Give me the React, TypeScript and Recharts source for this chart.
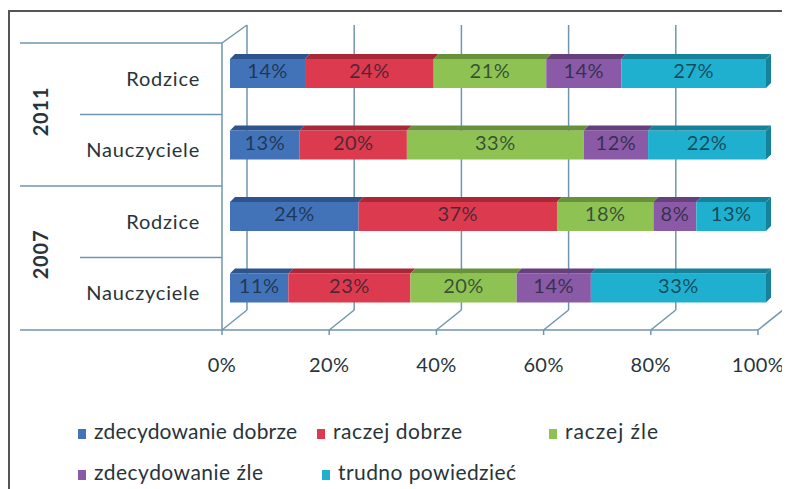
import React from 'react';
import { BarChart, Bar, XAxis, YAxis, CartesianGrid, LabelList, Customized } from 'recharts';

// 100% stacked, 3D-ish horizontal bars (Excel style)
const groups = ['Rodzice', 'Nauczyciele', 'Rodzice', 'Nauczyciele'];
const years = ['2011', '2011', '2007', '2007'];
const zdecydowanieDobrze = [14, 13, 24, 11];
const raczejDobrze = [24, 20, 37, 23];
const raczejZle = [21, 33, 18, 20];
const zdecydowanieZle = [14, 12, 8, 14];
const trudnoPowiedziec = [27, 22, 13, 33];
const xTicks = [0, 0.2, 0.4, 0.6, 0.8, 1];

const series = [
  { key: 'zd', name: 'zdecydowanie dobrze', values: zdecydowanieDobrze, color: '#4273b9', top: '#2d548d' },
  { key: 'rd', name: 'raczej dobrze', values: raczejDobrze, color: '#dc3a4e', top: '#a82838' },
  { key: 'rz', name: 'raczej źle', values: raczejZle, color: '#8ec253', top: '#67923a' },
  { key: 'zz', name: 'zdecydowanie źle', values: zdecydowanieZle, color: '#8a5aa6', top: '#65407c' },
  { key: 'tp', name: 'trudno powiedzieć', values: trudnoPowiedziec, color: '#1fb0cf', top: '#15819a' },
];

const data = groups.map((g, i) => {
  const row: any = { id: i, group: g, year: years[i] };
  series.forEach((s) => (row[s.key] = s.values[i]));
  return row;
});

const FONT = 'Lato, "Open Sans", sans-serif';
const TEXT = '#28343a';
const LINE = '#6f96ae';

const W = 790;
const H = 489;
const MARGIN = { top: 27, right: 32, bottom: 136, left: 8 };
const Y_AXIS_W = 214;
const X_AXIS_H = 40;
const PLOT_TOP = MARGIN.top;
const PLOT_BOTTOM = H - MARGIN.bottom - X_AXIS_H;
const BAND = (PLOT_BOTTOM - PLOT_TOP) / groups.length;
const DEPTH_X = 17; // back wall offset
const FRONT_X = -8; // front floor offset
const WALL_X = MARGIN.left + Y_AXIS_W + FRONT_X;
const FLOOR_Y = PLOT_BOTTOM + 9;
const D = 5;

function barShape(s: any, last: boolean) {
  return (props: any) => {
    const { x, y, width, height } = props;
    if (!width || width <= 0) return null;
    return (
      <g>
        <rect x={x} y={y + D} width={width} height={height - D} fill={s.color} />
        <polygon
          points={`${x},${y + D} ${x + D},${y} ${x + width + D},${y} ${x + width},${y + D}`}
          fill={s.top}
        />
        {last && (
          <polygon
            points={`${x + width},${y + D} ${x + width + D},${y} ${x + width + D},${y + height - D} ${x + width},${y + height}`}
            fill={s.top}
          />
        )}
      </g>
    );
  };
}

function GridLine(props: any) {
  const { x1, y1, y2 } = props;
  return (
    <g key={props.key}>
      <line x1={x1 + DEPTH_X} y1={y1 - 10} x2={x1 + DEPTH_X} y2={y2 - 11} stroke={LINE} strokeWidth={1.5} />
      <line x1={x1 + DEPTH_X} y1={y2 - 11} x2={x1 + FRONT_X} y2={FLOOR_Y} stroke={LINE} strokeWidth={1.5} />
      <line x1={x1 + FRONT_X} y1={FLOOR_Y} x2={x1 + FRONT_X} y2={FLOOR_Y + 5} stroke={LINE} strokeWidth={1.5} />
    </g>
  );
}

function XTick({ x, payload }: any) {
  return (
    <text x={x + FRONT_X} y={FLOOR_Y + 37} textAnchor="middle" dominantBaseline="middle"
      fontFamily={FONT} fontSize={20} letterSpacing={0.4} fill={TEXT}>
      {Math.round(payload.value * 100)}%
    </text>
  );
}

function YTick({ y, payload }: any) {
  const i = payload.value;
  const sepY = y - BAND / 2 + 8;
  const long = i % 2 === 0;
  const yy = y + BAND / 2 + 8;
  return (
    <g>
      <line x1={long ? 12 : 72} y1={sepY} x2={WALL_X} y2={sepY} stroke={LINE} strokeWidth={1.5} />
      <text x={192} y={y + 10} textAnchor="end" dominantBaseline="middle"
        fontFamily={FONT} fontSize={20} letterSpacing={0.8} fill={TEXT}>
        {groups[i]}
      </text>
      {long && (
        <text x={35} y={yy - 3} textAnchor="middle" dominantBaseline="middle"
          fontFamily={FONT} fontSize={20} fontWeight={700} letterSpacing={0.8} fill={TEXT}
          transform={`rotate(-90 35 ${yy - 3})`}>
          {years[i]}
        </text>
      )}
    </g>
  );
}

function Frame() {
  return (
    <g>
      <line x1={WALL_X} y1={PLOT_TOP + 8} x2={WALL_X} y2={FLOOR_Y} stroke={LINE} strokeWidth={1.5} />
      <line x1={WALL_X} y1={PLOT_TOP + 8} x2={WALL_X + DEPTH_X + 8} y2={PLOT_TOP - 10} stroke={LINE} strokeWidth={1.5} />
      <line x1={12} y1={FLOOR_Y} x2={W - MARGIN.right + FRONT_X} y2={FLOOR_Y} stroke={LINE} strokeWidth={1.5} />
    </g>
  );
}

const legendPos = [
  { x: 70, y: 426, w: 203 },
  { x: 309, y: 426, w: 129 },
  { x: 541, y: 426, w: 93 },
  { x: 70, y: 467, w: 169 },
  { x: 314, y: 467, w: 178 },
];

function LegendBlock() {
  return (
    <g>
      {series.map((s, i) => {
        const p = legendPos[i];
        return (
          <g key={s.key}>
            <rect x={p.x} y={p.y - 5} width={8} height={10} fill={s.color} />
            <text x={p.x + 16} y={p.y} dominantBaseline="middle" textLength={p.w}
              lengthAdjust="spacing" fontFamily={FONT} fontSize={21} fill={TEXT}>
              {s.name}
            </text>
          </g>
        );
      })}
    </g>
  );
}

export default function App() {
  return (
    <div style={{ position: 'relative', width: W, height: H }}>
      <div style={{ position: 'absolute', left: 0, top: 2, width: 900, height: 700,
        borderLeft: '2px solid #555', borderTop: '2px solid #555', boxSizing: 'border-box' }} />
      <div style={{ position: 'absolute', left: 0, top: 0 }}>
        <BarChart width={W} height={H} data={data} layout="vertical" stackOffset="expand"
          margin={MARGIN} barSize={34}>
          <CartesianGrid horizontal={false} vertical={GridLine as any} stroke={LINE} />
          <XAxis type="number" domain={[0, 1]} ticks={xTicks} height={X_AXIS_H}
            axisLine={false} tickLine={false} tick={<XTick />} interval={0} />
          <YAxis type="category" dataKey="id" width={Y_AXIS_W} axisLine={false}
            tickLine={false} tick={<YTick />} interval={0} />
          <Customized component={Frame} />
          {series.map((s, i) => (
            <Bar key={s.key} dataKey={s.key} name={s.name} stackId="a" fill={s.color}
              isAnimationActive={false} shape={barShape(s, i === series.length - 1)}>
              <LabelList dataKey={s.key} position="center"
                formatter={(v: any) => `${v}%`}
                style={{ fontFamily: FONT, fontSize: 20, letterSpacing: 0.5, fill: '#101c2a', fillOpacity: 0.7 }} />
            </Bar>
          ))}
          <Customized component={LegendBlock} />
        </BarChart>
      </div>
    </div>
  );
}
